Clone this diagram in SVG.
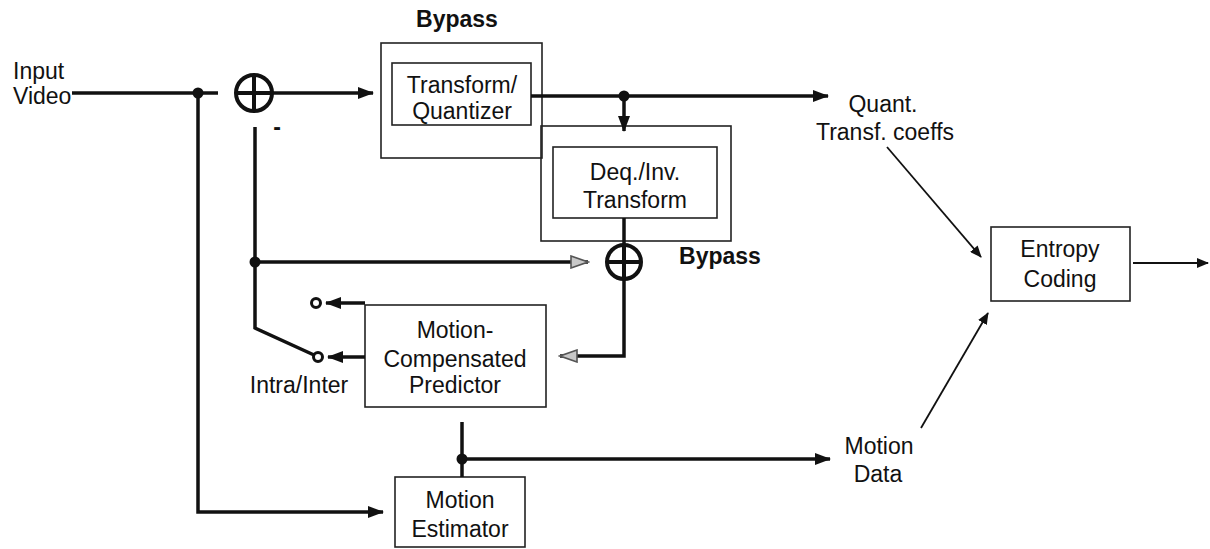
<svg xmlns="http://www.w3.org/2000/svg" width="1210" height="549" viewBox="0 0 1210 549">
<defs>
<style>
text{font-family:"Liberation Sans",Arial,sans-serif;font-size:23px;fill:#111;text-anchor:middle}
.b{font-weight:bold}
.st{text-anchor:start}
.box{fill:none;stroke:#222;stroke-width:1.6}
.thick{fill:none;stroke:#111;stroke-width:3.5}
.thin{fill:none;stroke:#111;stroke-width:1.8}
.dot{fill:#111}
.sw{fill:#fff;stroke:#111;stroke-width:3}
.sum{fill:none;stroke:#111;stroke-width:4}
</style>
<marker id="ah" markerWidth="16" markerHeight="12" refX="15" refY="6" orient="auto" markerUnits="userSpaceOnUse"><path d="M0,0 L16,6 L0,12 Z" fill="#111"/></marker>
<marker id="ahs" markerWidth="12" markerHeight="10" refX="11" refY="5" orient="auto" markerUnits="userSpaceOnUse"><path d="M0,0 L12,5 L0,10 Z" fill="#111"/></marker>
<marker id="aho" markerWidth="20" markerHeight="14" refX="18" refY="7" orient="auto" markerUnits="userSpaceOnUse"><path d="M1,1 L18,7 L1,13 Z" fill="#c8c8c8" stroke="#555" stroke-width="1.6"/></marker>
</defs>

<g id="input-label"><text x="13" y="79" class="st">Input</text><text x="13" y="104" class="st">Video</text></g>

<g id="sum1"><circle cx="254" cy="93" r="18" class="sum"/><line x1="236" y1="93" x2="272" y2="93" class="sum" stroke-width="3"/><line x1="254" y1="75" x2="254" y2="111" class="sum" stroke-width="3"/><text x="277" y="135" class="b">-</text></g>

<g id="bypass1"><text x="457" y="27" class="b">Bypass</text><rect x="381" y="43" width="161" height="115" class="box"/></g>
<g id="transform-quantizer"><rect x="392" y="63" width="139" height="62" class="box"/><text x="462" y="93">Transform/</text><text x="462" y="119">Quantizer</text></g>

<g id="bypass2"><rect x="541" y="126" width="190" height="115" class="box"/><text x="720" y="264" class="b">Bypass</text></g>
<g id="deq-inv-transform"><rect x="553" y="147" width="164" height="71" class="box"/><text x="635" y="180">Deq./Inv.</text><text x="635" y="208">Transform</text></g>

<g id="sum2"><circle cx="624" cy="262" r="17" class="sum"/><line x1="607" y1="262" x2="641" y2="262" class="sum" stroke-width="3"/><line x1="624" y1="245" x2="624" y2="279" class="sum" stroke-width="3"/></g>

<g id="mc-predictor"><rect x="365" y="305" width="181" height="102" class="box"/><text x="455" y="338">Motion-</text><text x="455" y="367">Compensated</text><text x="455" y="393">Predictor</text></g>

<g id="switch"><circle cx="316" cy="303" r="4.5" class="sw"/><circle cx="318" cy="357" r="4.5" class="sw"/><text x="299" y="393">Intra/Inter</text></g>

<g id="motion-estimator"><rect x="395" y="477" width="130" height="70" class="box"/><text x="460" y="508">Motion</text><text x="460" y="537">Estimator</text></g>

<g id="quant-label"><text x="883" y="112">Quant.</text><text x="885" y="140">Transf. coeffs</text></g>
<g id="motion-data-label"><text x="879" y="454">Motion</text><text x="878" y="482">Data</text></g>

<g id="entropy-coding"><rect x="991" y="227" width="139" height="74" class="box"/><text x="1060" y="257">Entropy</text><text x="1060" y="287">Coding</text></g>

<g id="connectors">
<line x1="72" y1="93" x2="218" y2="93" class="thick" stroke-width="3"/>
<line x1="272" y1="93" x2="373" y2="93" class="thick" stroke-width="3" marker-end="url(#ah)"/>
<polyline points="198,93 198,512 383,512" class="thick" stroke-width="4" marker-end="url(#ah)"/>
<circle cx="198" cy="93" r="5.5" class="dot"/>
<polyline points="255,127 255,328 314,355" class="thick"/>
<line x1="255" y1="262" x2="588" y2="262" class="thick" marker-end="url(#aho)"/>
<circle cx="255" cy="262" r="5.5" class="dot"/>
<line x1="531" y1="96" x2="828" y2="96" class="thick" stroke-width="4.5" marker-end="url(#ah)"/>
<line x1="624" y1="96" x2="624" y2="131" class="thick" stroke-width="3" marker-end="url(#ah)"/>
<circle cx="624" cy="96" r="5.5" class="dot"/>
<line x1="624" y1="218" x2="624" y2="245" class="thick" stroke-width="3"/>
<polyline points="624,279 624,356 560,356" class="thick" marker-end="url(#aho)"/>
<line x1="365" y1="303" x2="326" y2="303" class="thick" marker-end="url(#ah)"/>
<line x1="365" y1="357" x2="328" y2="357" class="thick" marker-end="url(#ah)"/>
<line x1="462" y1="422" x2="462" y2="477" class="thick"/>
<line x1="462" y1="459" x2="830" y2="459" class="thick" stroke-width="3" marker-end="url(#ah)"/>
<circle cx="462" cy="459" r="5.5" class="dot"/>
<line x1="887" y1="147" x2="981" y2="257" class="thin" marker-end="url(#ahs)"/>
<line x1="921" y1="428" x2="988" y2="313" class="thin" marker-end="url(#ahs)"/>
<line x1="1133" y1="263" x2="1208" y2="263" class="thin" marker-end="url(#ahs)"/>
</g>
</svg>
